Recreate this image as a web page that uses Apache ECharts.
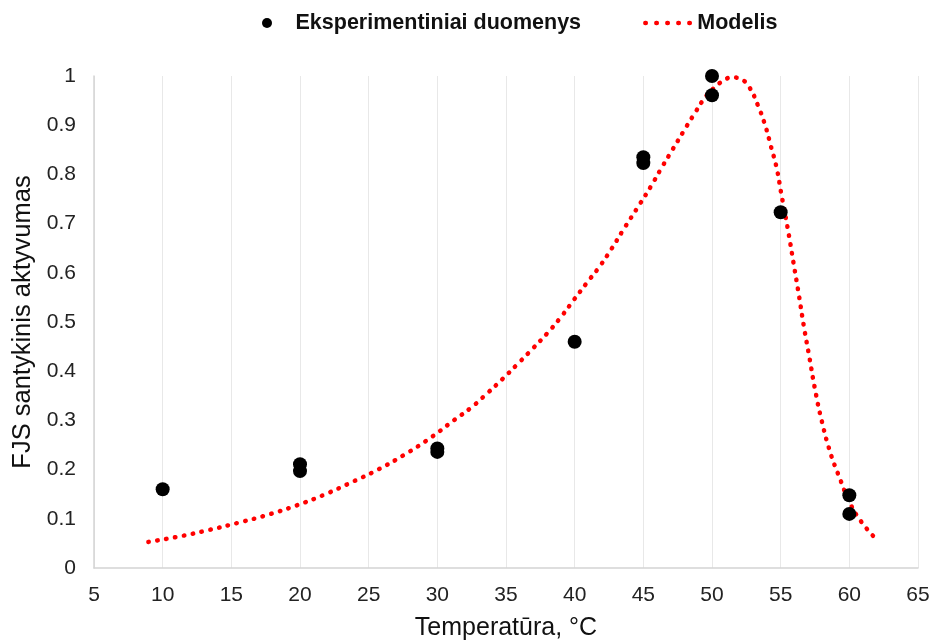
<!DOCTYPE html>
<html>
<head>
<meta charset="utf-8">
<script src="https://cdn.jsdelivr.net/npm/echarts@6/dist/echarts.min.js"></script>
<style>
  html, body { margin: 0; padding: 0; background: #fff; }
  #chart { width: 936px; height: 641px; }
</style>
</head>
<body>
<div id="chart"></div>
<script>
  // eksperimentiniai taskai [temperatura, aktyvumas]
  var expPoints = [
    [10, 0.16],
    [20, 0.211], [20, 0.197],
    [30, 0.243], [30, 0.236],
    [40, 0.46],
    [45, 0.835], [45, 0.823],
    [50, 1.0], [50, 0.961],
    [55, 0.723],
    [60, 0.148], [60, 0.11]
  ];

  // modelio kreive, nuskaityta nuo paveikslo
  var modelPoints = [
    [8.96, 0.053], [11.2, 0.064], [13.33, 0.077], [15.52, 0.092], [17.64, 0.108],
    [19.73, 0.127], [21.77, 0.149], [23.74, 0.174], [25.68, 0.2], [27.58, 0.23],
    [29.47, 0.264], [31.24, 0.301], [32.46, 0.326], [33.63, 0.355], [34.74, 0.384],
    [35.86, 0.415], [36.95, 0.446], [38.0, 0.477], [39.0, 0.51], [39.94, 0.545],
    [40.87, 0.579], [41.82, 0.613], [42.69, 0.649], [43.51, 0.686], [44.75, 0.74],
    [45.58, 0.777], [46.34, 0.814], [47.14, 0.851], [47.94, 0.888], [48.76, 0.925],
    [49.59, 0.96], [50.2, 0.977], [50.8, 0.99], [51.46, 0.997], [52.14, 0.993],
    [52.7, 0.978], [53.33, 0.941], [53.87, 0.9], [54.3, 0.856], [54.7, 0.814],
    [55.05, 0.76], [55.54, 0.686], [55.93, 0.621], [56.32, 0.556], [56.69, 0.491],
    [57.1, 0.427], [57.51, 0.362], [58.0, 0.298], [58.61, 0.235], [59.2, 0.19],
    [60.05, 0.132], [60.82, 0.096], [61.84, 0.062]
  ];

  var seriesNames = ['Eksperimentiniai duomenys', 'Modelis'];

  var myChart = echarts.init(document.getElementById('chart'));
  myChart.setOption({
    animation: false,
    textStyle: { fontFamily: 'Liberation Sans, Arial, sans-serif' },
    legend: {
      top: 7,
      left: 257,
      itemGap: 62,
      itemWidth: 47,
      itemHeight: 10,
      textStyle: { fontSize: 21.5, fontWeight: 'bold', color: '#111' },
      data: [
        { name: seriesNames[0], icon: 'circle', itemStyle: { color: '#000' } },
        {
          name: seriesNames[1],
          itemStyle: { opacity: 0 },
          lineStyle: { color: '#ff0000', width: 4.5, type: [0.5, 10.5], cap: 'round' }
        }
      ]
    },
    grid: { left: 94, right: 18, top: 76, bottom: 73, outerBoundsMode: 'none' },
    xAxis: {
      type: 'value',
      min: 5,
      max: 65,
      interval: 5,
      name: 'Temperatūra, °C',
      nameLocation: 'middle',
      nameGap: 48,
      nameTextStyle: { fontSize: 25, color: '#111' },
      axisLine: { lineStyle: { color: '#d4d4d4', width: 1.5 } },
      axisTick: { show: false },
      axisLabel: { fontSize: 21, color: '#222', margin: 17 },
      splitLine: { show: true, lineStyle: { color: '#e8e8e8', width: 1 } }
    },
    yAxis: {
      type: 'value',
      min: 0,
      max: 1,
      interval: 0.1,
      name: 'FJS santykinis aktyvumas',
      nameLocation: 'middle',
      nameGap: 57,
      nameTextStyle: { fontSize: 25.5, color: '#111' },
      axisLine: { show: true, lineStyle: { color: '#d4d4d4', width: 1.5 } },
      axisTick: { show: false },
      axisLabel: { fontSize: 21, color: '#222', margin: 18 },
      splitLine: { show: false }
    },
    series: [{
      name: seriesNames[0],
      type: 'scatter',
      data: expPoints,
      symbolSize: 14,
      itemStyle: { color: '#000', opacity: 1 },
      z: 3
    }, {
      name: seriesNames[1],
      type: 'line',
      data: modelPoints,
      smooth: true,
      showSymbol: false,
      symbol: 'none',
      itemStyle: { color: '#ff0000' },
      lineStyle: { color: '#ff0000', width: 4.5, type: [0.5, 8.5], cap: 'round' },
      z: 2
    }]
  });
</script>
</body>
</html>
